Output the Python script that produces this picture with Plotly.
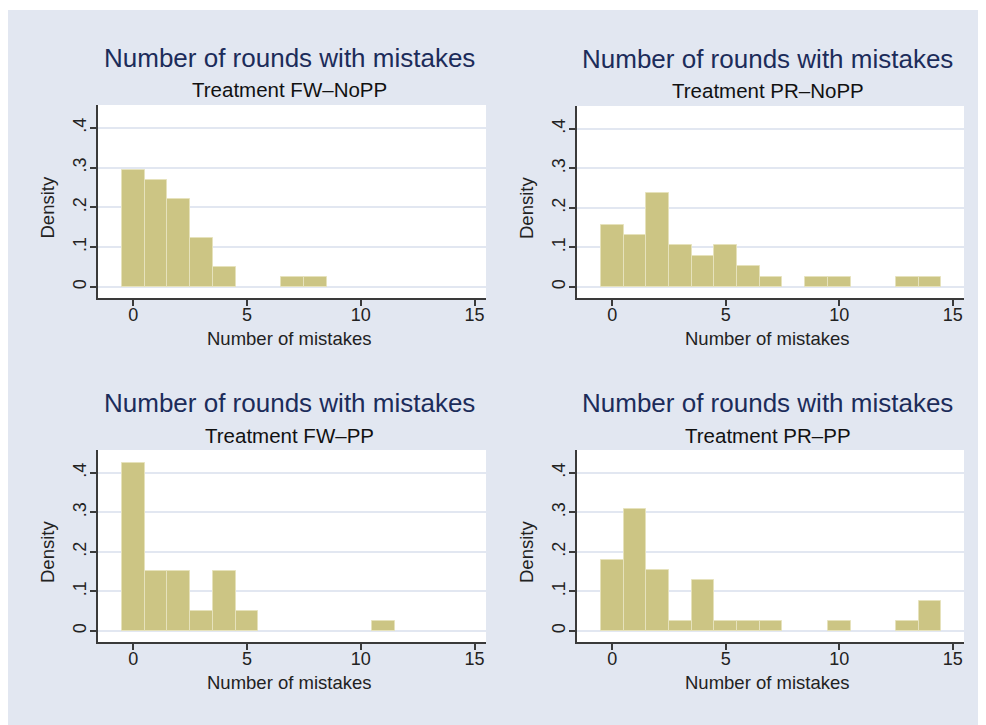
import plotly.graph_objects as go

# ---- data (density per 1-unit bin) ----
panel_titles = ["Number of rounds with mistakes"] * 4
panel_subtitles = ["Treatment FW\u2013NoPP", "Treatment PR\u2013NoPP",
                   "Treatment FW\u2013PP", "Treatment PR\u2013PP"]

fw_nopp_bins = [0, 1, 2, 3, 4, 7, 8]
fw_nopp_dens = [0.294, 0.269, 0.221, 0.123, 0.050, 0.026, 0.026]

pr_nopp_bins = [0, 1, 2, 3, 4, 5, 6, 7, 9, 10, 13, 14]
pr_nopp_dens = [0.158, 0.132, 0.237, 0.105, 0.079, 0.105, 0.053, 0.026,
                0.026, 0.026, 0.026, 0.026]

fw_pp_bins = [0, 1, 2, 3, 4, 5, 11]
fw_pp_dens = [0.426, 0.151, 0.151, 0.051, 0.151, 0.051, 0.026]

pr_pp_bins = [0, 1, 2, 3, 4, 5, 6, 7, 10, 13, 14]
pr_pp_dens = [0.179, 0.308, 0.154, 0.026, 0.128, 0.026, 0.026, 0.026,
              0.026, 0.026, 0.077]

y_tick_vals = [0, 0.1, 0.2, 0.3, 0.4]
y_tick_text = ["0", ".1", ".2", ".3", ".4"]
x_tick_vals = [0, 5, 10, 15]
x_tick_text = ["0", "5", "10", "15"]
x_title = "Number of mistakes"
y_title = "Density"

series = [(fw_nopp_bins, fw_nopp_dens), (pr_nopp_bins, pr_nopp_dens),
          (fw_pp_bins, fw_pp_dens), (pr_pp_bins, pr_pp_dens)]

# ---- layout geometry (page pixels; the page body adds an 8px offset) ----
W, H = 1000, 740
OFF = 8
BG = "#E2E7F1"
GRID = "#E2E7F1"
BAR = "#CCC584"
BAR_LINE = "#E6E2BC"
AXIS = "#3A3A3A"
TITLE_C = "#1C2C5A"
FONT = "Liberation Sans, Arial, sans-serif"

# (left, right, top, bottom) of each plot region, page pixels
boxes = [(98, 486, 105, 298), (577, 964, 106, 298),
         (98, 486, 450, 642), (577, 964, 450, 642)]


def px(x):
    return (x - OFF) / W


def py(y):
    return 1 - (y - OFF) / H


fig = go.Figure()
layout = dict(
    width=W, height=H,
    margin=dict(l=0, r=0, t=0, b=0),
    paper_bgcolor=BG, plot_bgcolor="white",
    showlegend=False, bargap=0,
    font=dict(family=FONT, color="#222222"),
    annotations=[], shapes=[],
)

for i, ((bins, dens), (l, r, t, b)) in enumerate(zip(series, boxes)):
    n = i + 1
    xa = "x" if n == 1 else f"x{n}"
    ya = "y" if n == 1 else f"y{n}"
    fig.add_trace(go.Bar(
        x=bins, y=dens, width=1, xaxis=xa, yaxis=ya,
        marker=dict(color=BAR, line=dict(color=BAR_LINE, width=1)),
    ))
    layout[f"xaxis{'' if n == 1 else n}"] = dict(
        domain=[px(l), px(r)], anchor=ya, range=[-1.55, 15.5],
        tickvals=x_tick_vals, ticktext=x_tick_text,
        showgrid=False, zeroline=False,
        showline=True, linecolor=AXIS, linewidth=1.5,
        ticks="outside", ticklen=6, tickwidth=1.5, tickcolor=AXIS,
        ticklabelstandoff=-6,
        tickfont=dict(size=18, family=FONT, color="#222222"),
        fixedrange=True,
    )
    layout[f"yaxis{'' if n == 1 else n}"] = dict(
        domain=[py(b), py(t)], anchor=xa, range=[-0.028, 0.458],
        tickvals=y_tick_vals, ticktext=y_tick_text, tickangle=-90,
        showgrid=True, gridcolor=GRID, gridwidth=1.5, zeroline=False,
        showline=True, linecolor=AXIS, linewidth=1.5,
        ticks="outside", ticklen=6, tickwidth=1.5, tickcolor=AXIS,
        ticklabelstandoff=-3,
        tickfont=dict(size=18, family=FONT, color="#222222"),
        fixedrange=True,
    )
    cx = (l + r) / 2 - 3
    layout["annotations"] += [
        dict(text=panel_titles[i], x=px(cx), y=py(t - 47), xref="paper", yref="paper",
             showarrow=False, xanchor="center", yanchor="middle",
             font=dict(size=26, family=FONT, color=TITLE_C)),
        dict(text=panel_subtitles[i], x=px(cx), y=py(t - 15), xref="paper", yref="paper",
             showarrow=False, xanchor="center", yanchor="middle",
             font=dict(size=20.5, family=FONT, color="#111111")),
        dict(text=x_title, x=px(cx), y=py(b + 40), xref="paper", yref="paper",
             showarrow=False, xanchor="center", yanchor="middle",
             font=dict(size=18.5, family=FONT, color="#222222")),
        dict(text=y_title, x=px(l - 51), y=py((t + b) / 2 + 6), xref="paper", yref="paper",
             showarrow=False, xanchor="center", yanchor="middle", textangle=-90,
             font=dict(size=18.5, family=FONT, color="#222222")),
    ]

# thin white page strip at the very top of the graph region
layout["shapes"] += [
    dict(type="rect", xref="paper", yref="paper", x0=0, x1=1, y0=py(10), y1=1,
         fillcolor="white", line=dict(width=0)),
]

fig.update_layout(**layout)
fig.write_html("out.html")
